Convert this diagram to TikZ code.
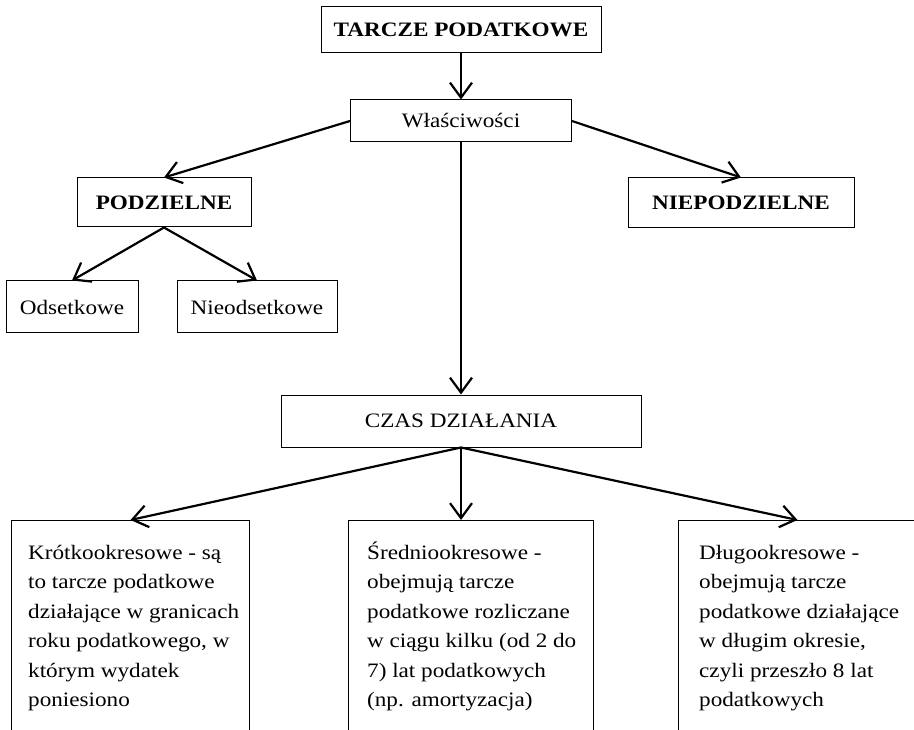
\documentclass[tikz,border=0pt]{standalone}
\usepackage{fontspec}
\setmainfont{Liberation Serif}[FakeStretch=1.13]
\usetikzlibrary{arrows.meta}

\begin{document}
\begin{tikzpicture}[x=1pt,y=-1pt,
  box/.style={draw=black, line width=1pt, rectangle, inner sep=0pt,
    font=\fontsize{20.5}{24}\selectfont},
  head/.style={box, font=\fontsize{20.5}{24}\selectfont\bfseries},
  conn/.style={line width=2.2pt, -{Straight Barb[length=15pt,width=22pt]}},
  panel/.style={draw=black, line width=1pt, rectangle, anchor=north west,
    inner sep=0pt, minimum height=230pt},
  paneltext/.style={anchor=base west, inner sep=0pt}
]
\useasboundingbox (0,0) rectangle (914,730);
\clip (0,0) rectangle (914,730);

% upper part of the tree
\node[head, minimum width=280pt, minimum height=46pt] (tp) at (461,30) {TARCZE PODATKOWE};
\node[box, minimum width=221pt, minimum height=42pt] (wl) at (461,121) {Właściwości};
\node[head, minimum width=174pt, minimum height=49pt] (pd) at (164,202.5) {PODZIELNE};
\node[head, minimum width=226pt, minimum height=50pt] (np) at (741,203) {NIEPODZIELNE};
\node[box, minimum width=132pt, minimum height=52pt] (od) at (72,307) {Odsetkowe};
\node[box, minimum width=160pt, minimum height=52pt] (no) at (257,307) {Nieodsetkowe};
\node[box, minimum width=360pt, minimum height=52pt] (cz) at (461,421) {CZAS DZIAŁANIA};

% lower panels
\node[panel, minimum width=238pt] (kr) at (11,520) {};
\node[panel, minimum width=245pt] (sr) at (348,520) {};
\node[panel, minimum width=238pt] (dl) at (678,520) {};

\node[paneltext] (krt) at (28,559) {\parbox[t]{240pt}{\fontsize{20.5}{29.5}\selectfont\raggedright
  Krótkookresowe - są\\ to tarcze podatkowe\\ działające w granicach\\ roku podatkowego, w\\ którym wydatek\\ poniesiono}};
\node[paneltext] (srt) at (367,559) {\parbox[t]{240pt}{\fontsize{20.5}{29.5}\selectfont\raggedright
  Średniookresowe -\\ obejmują tarcze\\ podatkowe rozliczane\\ w ciągu kilku (od 2 do\\ 7) lat podatkowych\\ (np. amortyzacja)}};
\node[paneltext] (dlt) at (699,559) {\parbox[t]{240pt}{\fontsize{20.5}{29.5}\selectfont\raggedright
  Długookresowe -\\ obejmują tarcze\\ podatkowe działające\\ w długim okresie,\\ czyli przeszło 8 lat\\ podatkowych}};

% connectors
\draw[conn] (tp) -- (wl);
\draw[conn] (wl.west) -- (pd.north);
\draw[conn] (wl.east) -- (np.north);
\draw[conn] (pd.south) -- (od.north);
\draw[conn] (pd.south) -- (no.north);
\draw[conn] (wl) -- (cz);
\draw[conn] (cz.south) -- (kr.north);
\draw[conn] (cz.south) -- (cz.south |- sr.north);
\draw[conn] (cz.south) -- (dl.north);
\end{tikzpicture}
\end{document}
